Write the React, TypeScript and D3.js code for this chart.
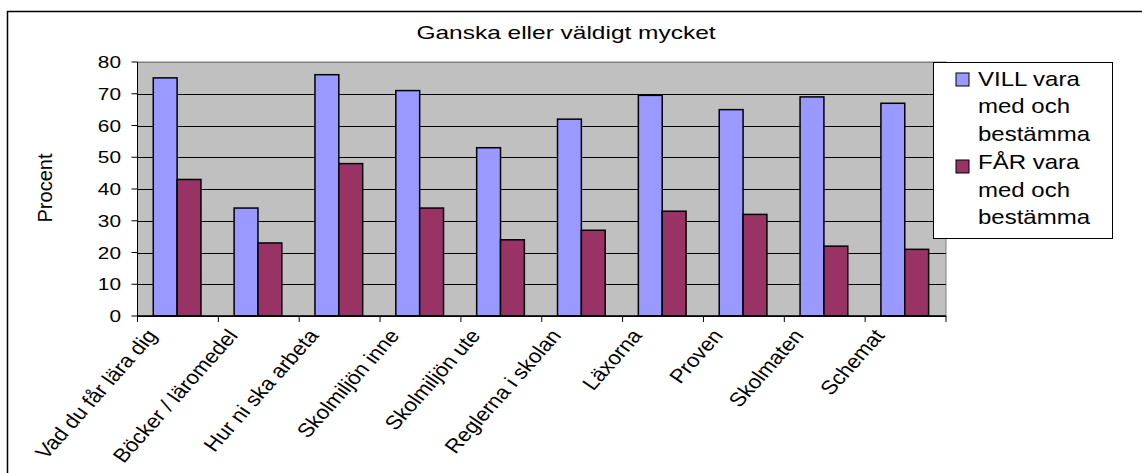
import * as d3 from 'd3'

const WIDTH = 1142
const HEIGHT = 473
const PLOT = { left: 137.5, right: 946, top: 62, bottom: 316 }
const FONT = 'Liberation Sans, Arial, sans-serif'

const categories = [
  'Vad du får lära dig',
  'Böcker / läromedel',
  'Hur ni ska arbeta',
  'Skolmiljön inne',
  'Skolmiljön ute',
  'Reglerna i skolan',
  'Läxorna',
  'Proven',
  'Skolmaten',
  'Schemat',
]
const vill = [75, 34, 76, 71, 53, 62, 69.5, 65, 69, 67]
const far = [43, 23, 48, 34, 24, 27, 33, 32, 22, 21]
const yTicks = [0, 10, 20, 30, 40, 50, 60, 70, 80]
const seriesNames = [
  ['VILL vara', 'med och', 'bestämma'],
  ['FÅR vara', 'med och', 'bestämma'],
]
const colors = ['#9999FF', '#993366']

// text in the picture is stretched sideways
const SX = 1.3

export default function App() {
  const x = d3.scaleBand().domain(categories).range([PLOT.left, PLOT.right]).padding(0)
  const y = d3.scaleLinear().domain([0, 80]).range([PLOT.bottom, PLOT.top])
  const bw = x.bandwidth()
  const barW = bw * 0.295
  const gap = bw * 0.195

  const series = [vill, far]

  return (
    <svg
      width={WIDTH}
      height={HEIGHT}
      style={{ position: 'absolute', left: 0, top: 0, fontFamily: FONT }}
    >
      <rect width={WIDTH} height={HEIGHT} fill="white" />
      <rect x={7.5} y={11.5} width={1200} height={600} fill="none" stroke="black" strokeWidth={1.5} />

      <text
        transform={`translate(566,39) scale(${SX + 0.06},1)`}
        textAnchor="middle"
        fontSize={18}
      >
        Ganska eller väldigt mycket
      </text>

      {/* plot area */}
      <rect
        x={PLOT.left}
        y={PLOT.top}
        width={PLOT.right - PLOT.left}
        height={PLOT.bottom - PLOT.top}
        fill="#C0C0C0"
        stroke="#808080"
        strokeWidth={1}
      />
      {yTicks.map((t) => (
        <line
          key={'g' + t}
          x1={PLOT.left}
          x2={PLOT.right}
          y1={Math.round(y(t)) + 0.5}
          y2={Math.round(y(t)) + 0.5}
          stroke={t === 80 ? '#808080' : 'black'}
          strokeWidth={1}
        />
      ))}

      {series.map((vals, si) =>
        vals.map((v, i) => (
          <rect
            key={si + '-' + i}
            x={(x(categories[i]) as number) + gap + si * barW}
            y={y(v)}
            width={barW}
            height={PLOT.bottom - y(v)}
            fill={colors[si]}
            stroke="black"
            strokeWidth={1.5}
          />
        ))
      )}

      {/* y axis */}
      <line x1={PLOT.left} x2={PLOT.left} y1={PLOT.top} y2={PLOT.bottom} stroke="black" />
      {yTicks.map((t) => (
        <g key={'t' + t}>
          <line x1={PLOT.left - 6} x2={PLOT.left} y1={y(t)} y2={y(t)} stroke="black" />
          <text
            transform={`translate(121,${y(t) + 6}) scale(${SX},1)`}
            textAnchor="end"
            fontSize={16}
          >
            {t}
          </text>
        </g>
      ))}
      <text
        transform={`translate(52,188) rotate(-90)`}
        textAnchor="middle"
        fontSize={20}
      >
        Procent
      </text>

      {/* x axis */}
      <line x1={PLOT.left} x2={PLOT.right} y1={PLOT.bottom} y2={PLOT.bottom} stroke="black" strokeWidth={1.5} />
      {[...categories.map((c) => x(c) as number), PLOT.right].map((p, i) => (
        <line key={'xt' + i} x1={p} x2={p} y1={PLOT.bottom} y2={PLOT.bottom + 6} stroke="black" />
      ))}
      {categories.map((c) => (
        <text
          key={'l' + c}
          transform={`translate(${(x(c) as number) + bw / 2 - 20},336) scale(1.15,1) rotate(-52)`}
          textAnchor="end"
          fontSize={19.5}
        >
          {c}
        </text>
      ))}

      {/* legend */}
      <rect x={933.5} y={62.5} width={179} height={176} fill="white" stroke="black" strokeWidth={1} />
      {seriesNames.map((lines, si) => (
        <g key={'lg' + si}>
          <rect
            x={956}
            y={73 + si * 87}
            width={13}
            height={13}
            fill={colors[si]}
            stroke="black"
            strokeWidth={1}
          />
          {lines.map((ln, li) => (
            <text
              key={li}
              transform={`translate(978,${85.5 + si * 83.5 + li * 27.7}) scale(1.2,1)`}
              fontSize={20}
            >
              {ln}
            </text>
          ))}
        </g>
      ))}
    </svg>
  )
}
